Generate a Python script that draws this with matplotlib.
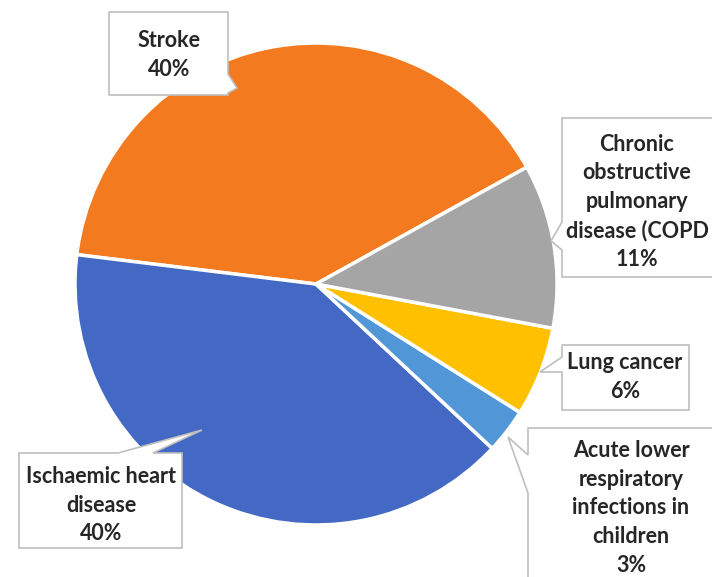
import matplotlib
matplotlib.use('Agg')
import matplotlib.pyplot as plt
from matplotlib.patches import Polygon

labels = ['Stroke', 'Ischaemic heart\ndisease', 'Acute lower\nrespiratory\ninfections in\nchildren',
          'Lung cancer', 'Chronic\nobstructive\npulmonary\ndisease (COPD']
values = [40, 40, 3, 6, 11]
colors = ['#F37A1E', '#4469C4', '#5197D8', '#FFC000', '#A5A5A5']

W, H = 712, 577
plt.rcParams['font.family'] = ['Lato', 'DejaVu Sans']

fig = plt.figure(figsize=(W / 100, H / 100), dpi=100)
ax = fig.add_axes([0, 0, 1, 1])
ax.pie(values, colors=colors, startangle=29, counterclock=True,
       center=(316, H - 284), radius=241, explode=[0, 0, 0.04, 0.04, 0.04],
       wedgeprops=dict(edgecolor='white', linewidth=2.5))
ax.set_xlim(0, W)
ax.set_ylim(0, H)
ax.axis('off')


def callout(box, side, a, b, tip, text_xy, text):
    # box = (x0, y0, x1, y1) in pixel coords from top-left
    x0, y0, x1, y1 = box
    if side == 'top':
        pts = [(x0, y0), (a, y0), tip, (b, y0), (x1, y0), (x1, y1), (x0, y1)]
    elif side == 'right':
        pts = [(x0, y0), (x1, y0), (x1, a), tip, (x1, b), (x1, y1), (x0, y1)]
    else:
        pts = [(x0, y0), (x1, y0), (x1, y1), (x0, y1), (x0, b), tip, (x0, a)]
    pts = [(x, H - y) for x, y in pts]
    ax.add_patch(Polygon(pts, closed=True, fc='white', ec='#BFBFBF', lw=1.2, zorder=5))
    ax.text(text_xy[0], H - text_xy[1], text, ha='center', va='center',
            fontsize=15.5, fontweight='bold', color='#262626',
            linespacing=1.45, zorder=6)


txt = [f'{l}\n{v}%' for l, v in zip(labels, values)]
callout((109, 12, 228, 95), 'right', 74, 93, (237, 88), (169, 55), txt[0])
callout((19, 453, 182, 548), 'top', 118, 153, (202, 430), (101, 505), txt[1])
callout((528, 428, 740, 600), 'left', 455, 493, (508, 437), (631, 508), txt[2])
callout((562, 345, 689, 410), 'left', 357, 372, (540, 372), (625, 377), txt[3])
callout((562, 118, 740, 277), 'left', 222, 250, (551, 241), (637, 202), txt[4])

plt.savefig('out.png', dpi=100)
